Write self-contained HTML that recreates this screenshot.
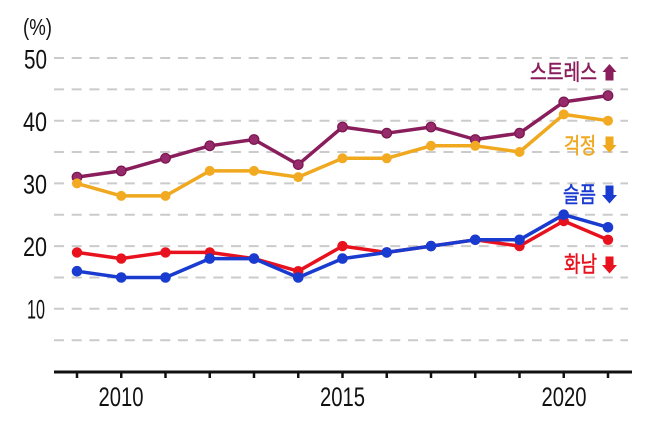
<!DOCTYPE html>
<html><head><meta charset="utf-8">
<style>
html,body{margin:0;padding:0;background:#fff;}
svg{display:block;}
</style></head>
<body>
<svg width="658" height="421" viewBox="0 0 658 421" xmlns="http://www.w3.org/2000/svg">
<rect width="658" height="421" fill="#fff"/>
<!-- gridlines -->
<g stroke="#cbcbcb" stroke-width="2" stroke-dasharray="10 7.7">
<line x1="54" y1="58" x2="628" y2="58"/>
<line x1="54" y1="89.4" x2="628" y2="89.4"/>
<line x1="54" y1="120.7" x2="628" y2="120.7"/>
<line x1="54" y1="152" x2="628" y2="152"/>
<line x1="54" y1="183.4" x2="628" y2="183.4"/>
<line x1="54" y1="214.7" x2="628" y2="214.7"/>
<line x1="54" y1="246.1" x2="628" y2="246.1"/>
<line x1="54" y1="277.5" x2="628" y2="277.5"/>
<line x1="54" y1="308.8" x2="628" y2="308.8"/>
<line x1="54" y1="340.2" x2="628" y2="340.2"/>
</g>
<!-- axis -->
<line x1="54" y1="372" x2="632" y2="372" stroke="#111" stroke-width="3"/>
<g stroke="#111" stroke-width="2.5">
<line x1="77" y1="372" x2="77" y2="378"/>
<line x1="121.25" y1="372" x2="121.25" y2="378"/>
<line x1="165.5" y1="372" x2="165.5" y2="378"/>
<line x1="209.75" y1="372" x2="209.75" y2="378"/>
<line x1="254" y1="372" x2="254" y2="378"/>
<line x1="298.25" y1="372" x2="298.25" y2="378"/>
<line x1="342.5" y1="372" x2="342.5" y2="378"/>
<line x1="386.75" y1="372" x2="386.75" y2="378"/>
<line x1="431" y1="372" x2="431" y2="378"/>
<line x1="475.25" y1="372" x2="475.25" y2="378"/>
<line x1="519.5" y1="372" x2="519.5" y2="378"/>
<line x1="563.75" y1="372" x2="563.75" y2="378"/>
<line x1="608" y1="372" x2="608" y2="378"/>
</g>
<!-- axis labels -->
<g font-family="'Liberation Sans', sans-serif" fill="#111" font-size="27">
<text x="23" y="35" font-size="23" textLength="29" lengthAdjust="spacingAndGlyphs">(%)</text>
<text x="24" y="68.5" textLength="23" lengthAdjust="spacingAndGlyphs">50</text>
<text x="23" y="131" textLength="24" lengthAdjust="spacingAndGlyphs">40</text>
<text x="23" y="193.5" textLength="24" lengthAdjust="spacingAndGlyphs">30</text>
<text x="23" y="256" textLength="24" lengthAdjust="spacingAndGlyphs">20</text>
<text x="27" y="318.5" textLength="18" lengthAdjust="spacingAndGlyphs">10</text>
<text x="98.5" y="406" textLength="45" lengthAdjust="spacingAndGlyphs">2010</text>
<text x="320" y="406" textLength="45" lengthAdjust="spacingAndGlyphs">2015</text>
<text x="541.5" y="406" textLength="45" lengthAdjust="spacingAndGlyphs">2020</text>
</g>
<!-- stress -->
<polyline fill="none" stroke="#8a1e5c" stroke-width="3.5" stroke-linejoin="round" points="77,177.1 121.25,170.9 165.5,158.3 209.75,145.8 254,139.5 298.25,164.6 342.5,127.0 386.75,133.2 431,127.0 475.25,139.5 519.5,133.2 563.75,101.9 608,95.6"/>
<g fill="#962a6a" stroke="#7a1650" stroke-width="1.2">
<circle cx="77" cy="177.1" r="4.8"/><circle cx="121.25" cy="170.9" r="4.8"/><circle cx="165.5" cy="158.3" r="4.8"/><circle cx="209.75" cy="145.8" r="4.8"/><circle cx="254" cy="139.5" r="4.8"/><circle cx="298.25" cy="164.6" r="4.8"/><circle cx="342.5" cy="127.0" r="4.8"/><circle cx="386.75" cy="133.2" r="4.8"/><circle cx="431" cy="127.0" r="4.8"/><circle cx="475.25" cy="139.5" r="4.8"/><circle cx="519.5" cy="133.2" r="4.8"/><circle cx="563.75" cy="101.9" r="4.8"/><circle cx="608" cy="95.6" r="4.8"/>
</g>
<!-- worry -->
<polyline fill="none" stroke="#f0a81e" stroke-width="3.5" stroke-linejoin="round" points="77,183.4 121.25,195.9 165.5,195.9 209.75,170.9 254,170.9 298.25,177.1 342.5,158.3 386.75,158.3 431,145.8 475.25,145.8 519.5,152.0 563.75,114.4 608,120.7"/>
<g fill="#f2aa22">
<circle cx="77" cy="183.4" r="5"/><circle cx="121.25" cy="195.9" r="5"/><circle cx="165.5" cy="195.9" r="5"/><circle cx="209.75" cy="170.9" r="5"/><circle cx="254" cy="170.9" r="5"/><circle cx="298.25" cy="177.1" r="5"/><circle cx="342.5" cy="158.3" r="5"/><circle cx="386.75" cy="158.3" r="5"/><circle cx="431" cy="145.8" r="5"/><circle cx="475.25" cy="145.8" r="5"/><circle cx="519.5" cy="152.0" r="5"/><circle cx="563.75" cy="114.4" r="5"/><circle cx="608" cy="120.7" r="5"/>
</g>
<!-- anger -->
<polyline fill="none" stroke="#e8121e" stroke-width="3.5" stroke-linejoin="round" points="77,252.4 121.25,258.6 165.5,252.4 209.75,252.4 254,258.6 298.25,271.2 342.5,246.1 386.75,252.4 431,246.1 475.25,239.8 519.5,246.1 563.75,221.0 608,239.8"/>
<g fill="#e8121e">
<circle cx="77" cy="252.4" r="5.2"/><circle cx="121.25" cy="258.6" r="5.2"/><circle cx="165.5" cy="252.4" r="5.2"/><circle cx="209.75" cy="252.4" r="5.2"/><circle cx="254" cy="258.6" r="5.2"/><circle cx="298.25" cy="271.2" r="5.2"/><circle cx="342.5" cy="246.1" r="5.2"/><circle cx="386.75" cy="252.4" r="5.2"/><circle cx="431" cy="246.1" r="5.2"/><circle cx="475.25" cy="239.8" r="5.2"/><circle cx="519.5" cy="246.1" r="5.2"/><circle cx="563.75" cy="221.0" r="5.2"/><circle cx="608" cy="239.8" r="5.2"/>
</g>
<!-- sadness -->
<polyline fill="none" stroke="#1a3bd0" stroke-width="3.5" stroke-linejoin="round" points="77,271.2 121.25,277.5 165.5,277.5 209.75,258.6 254,258.6 298.25,277.5 342.5,258.6 386.75,252.4 431,246.1 475.25,239.8 519.5,239.8 563.75,214.7 608,227.3"/>
<g fill="#1a3bd0">
<circle cx="77" cy="271.2" r="5.3"/><circle cx="121.25" cy="277.5" r="5.3"/><circle cx="165.5" cy="277.5" r="5.3"/><circle cx="209.75" cy="258.6" r="5.3"/><circle cx="254" cy="258.6" r="5.3"/><circle cx="298.25" cy="277.5" r="5.3"/><circle cx="342.5" cy="258.6" r="5.3"/><circle cx="386.75" cy="252.4" r="5.3"/><circle cx="431" cy="246.1" r="5.3"/><circle cx="475.25" cy="239.8" r="5.3"/><circle cx="519.5" cy="239.8" r="5.3"/><circle cx="563.75" cy="214.7" r="5.3"/><circle cx="608" cy="227.3" r="5.3"/>
</g>
<!-- labels -->
<g font-family="'Liberation Sans', 'Noto Sans CJK KR', sans-serif" font-size="22" stroke-width="0.5">
<text x="530" y="80" fill="#8a1e5c" stroke="#8a1e5c" textLength="67" lengthAdjust="spacingAndGlyphs">스트레스</text>
<text x="564" y="153.5" fill="#f0a81e" stroke="#f0a81e" textLength="32" lengthAdjust="spacingAndGlyphs">걱정</text>
<text x="563" y="202.5" fill="#1a3bd0" stroke="#1a3bd0" textLength="33" lengthAdjust="spacingAndGlyphs">슬픔</text>
<text x="564" y="272" fill="#e8121e" stroke="#e8121e" textLength="33" lengthAdjust="spacingAndGlyphs">화남</text>
</g>
<!-- arrows -->
<polygon fill="#8a1e5c" points="609.5,64 616.5,72 613.5,72 613.5,80.5 605.5,80.5 605.5,72 602.5,72"/>
<polygon fill="#f0a81e" points="605.5,136.5 613.5,136.5 613.5,145 616.5,145 609.5,153 602.5,145 605.5,145"/>
<polygon fill="#1a3bd0" points="605.5,185.5 613.5,185.5 613.5,195 617,195 609.5,203.5 602,195 605.5,195"/>
<polygon fill="#e8121e" points="605.5,256.5 613.5,256.5 613.5,265 617,265 609.5,273.5 602,265 605.5,265"/>
</svg>
</body></html>
